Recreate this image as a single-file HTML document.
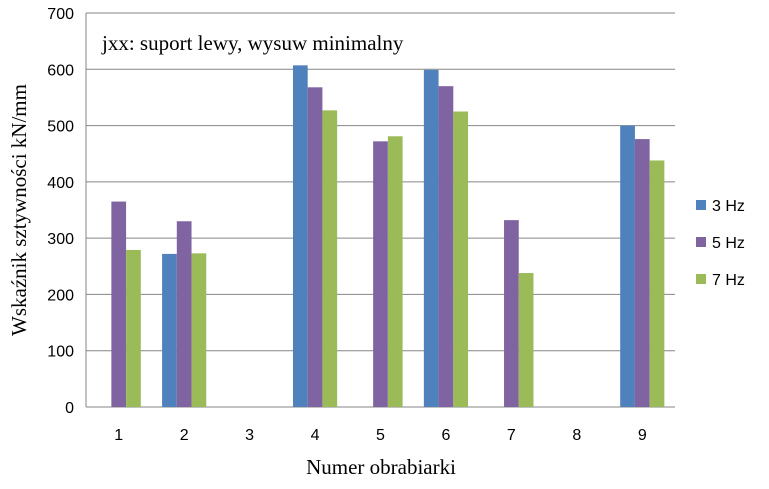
<!DOCTYPE html>
<html><head><meta charset="utf-8"><style>
body{margin:0;background:#fff;}
svg text{font-family:"Liberation Sans",sans-serif;}
</style></head><body>
<svg id="c" width="769" height="484" viewBox="0 0 769 484" xmlns="http://www.w3.org/2000/svg">
<g id="grid"></g><g id="bars"></g><g id="axes"></g>
<text x="102" y="50" font-family="Liberation Serif" font-size="21" fill="#000" style="font-family:'Liberation Serif',serif">jxx: suport lewy, wysuw minimalny</text>
<text x="381" y="474" text-anchor="middle" font-size="21" style="font-family:'Liberation Serif',serif">Numer obrabiarki</text>
<text transform="translate(26,210) rotate(-90)" text-anchor="middle" font-size="21" style="font-family:'Liberation Serif',serif">Wskaźnik sztywności  kN/mm</text>
<g id="legend"></g>
</svg>
<script>
const categories=["1","2","3","4","5","6","7","8","9"];
const series=["3 Hz","5 Hz","7 Hz"];
const v3=[0,272,0,607,0,599,0,0,500];
const v5=[365,330,0,568,472,570,332,0,476];
const v7=[279,273,0,527,481,525,238,0,438];
const yTicks=[0,100,200,300,400,500,600,700];
const colors=["#4F81BD","#8064A2","#9BBB59"];
const NS="http://www.w3.org/2000/svg";
const X0=86,X1=675,Y0=407,Y1=13,YMAX=700;
const bw=(X1-X0)/categories.length;
const y=v=>Y0-(v/YMAX)*(Y0-Y1);
const xc=i=>X0+bw*(i+0.5);
function mk(t,a,p){const e=document.createElementNS(NS,t);for(const k in a)e.setAttribute(k,a[k]);p.appendChild(e);return e;}
const g=document.getElementById('grid'),b=document.getElementById('bars'),ax=document.getElementById('axes'),lg=document.getElementById('legend');
yTicks.forEach(t=>{
  const l=mk('line',{x1:X0,x2:X1,y1:y(t),y2:y(t),stroke:t===0?'#868686':'#868686','stroke-width':1},g);
  
  
  const tx=mk('text',{x:X0-12,y:y(t)+6,'text-anchor':'end','font-size':16},ax);
  tx.textContent=t;
  
  
});
const yl=mk('line',{x1:X0,x2:X0,y1:Y1,y2:Y0,stroke:'#868686'},ax);


const data=[v3,v5,v7];
const w=bw*0.225;
categories.forEach((c,i)=>{
  data.forEach((s,j)=>{
    const v=s[i];
    const r=mk('rect',{x:xc(i)+(j-1.5)*w,y:y(v),width:w,height:Y0-y(v),fill:colors[j]},b);
    
    
  });
  const t=mk('text',{x:xc(i),y:Y0+33,'text-anchor':'middle','font-size':16},ax);
  t.textContent=c;
  
  
});
series.forEach((s,j)=>{
  const yy=205+j*37;
  const r=mk('rect',{x:696,y:yy-5,width:10,height:10,fill:colors[j]},lg);
  
  
  const t=mk('text',{x:712,y:yy+6,'font-size':16},lg);
  t.textContent=s;
  
  
});
</script>
</body></html>
